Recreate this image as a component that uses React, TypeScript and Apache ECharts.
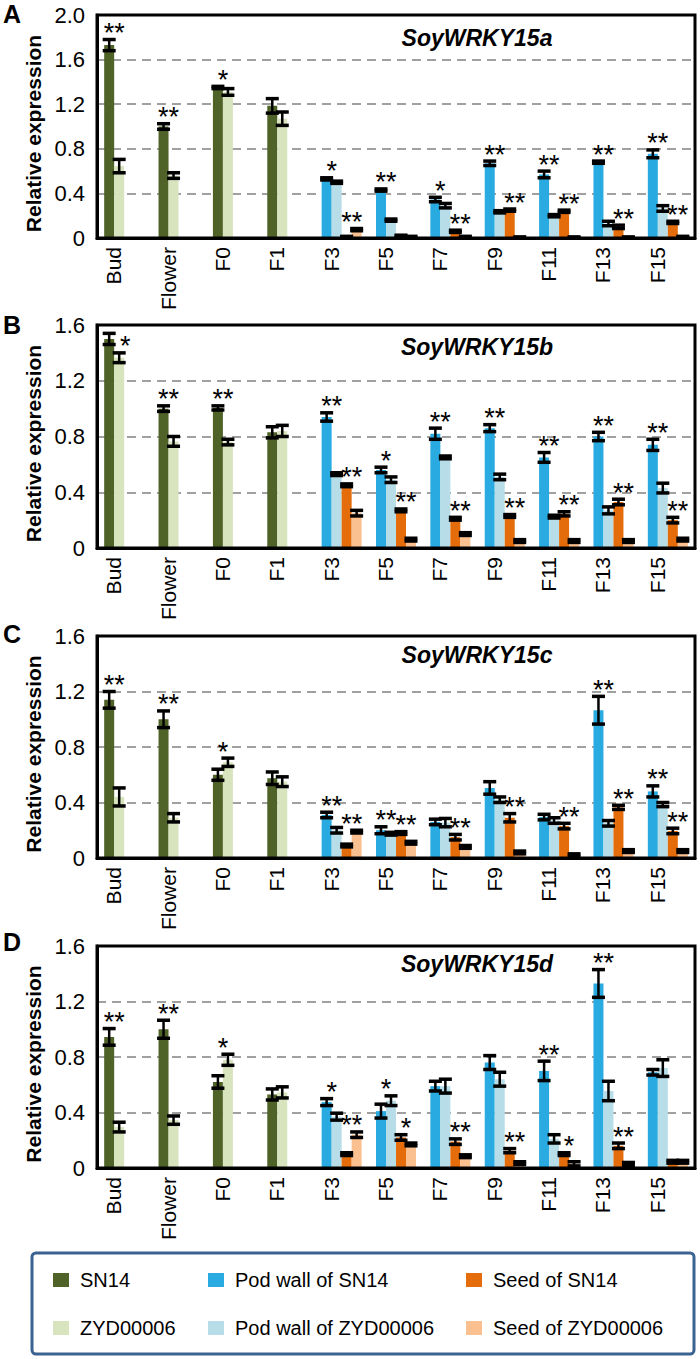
import React, { useEffect, useRef } from 'react';
import * as echarts from 'echarts';

const categories = ['Bud', 'Flower', 'F0', 'F1', 'F3', 'F5', 'F7', 'F9', 'F11', 'F13', 'F15'];

// ---------- Panel A: SoyWRKY15a ----------
const aSN14 = [1.73, 1.0, 1.35, 1.185];
const aSN14Err = [0.05, 0.025, 0.01, 0.065];
const aZYD = [0.645, 0.56, 1.31, 1.07];
const aZYDErr = [0.06, 0.025, 0.03, 0.06];
const aPodSN14 = [0.53, 0.43, 0.345, 0.67, 0.57, 0.68, 0.755];
const aPodSN14Err = [0.01, 0.01, 0.02, 0.02, 0.03, 0.01, 0.035];
const aPodZYD = [0.5, 0.16, 0.29, 0.235, 0.2, 0.13, 0.265];
const aPodZYDErr = [0.01, 0.01, 0.02, 0.01, 0.01, 0.02, 0.025];
const aSeedSN14 = [0.01, 0.02, 0.06, 0.25, 0.24, 0.1, 0.14];
const aSeedSN14Err = [0.005, 0.005, 0.01, 0.01, 0.01, 0.015, 0.01];
const aSeedZYD = [0.075, 0.01, 0.01, 0.005, 0.005, 0.005, 0.01];
const aSeedZYDErr = [0.01, 0.005, 0.005, 0.005, 0.005, 0.005, 0.005];
const aPlantSig = ['**', '**', '*', ''];
const aPodSig = ['*', '**', '*', '**', '**', '**', '**'];
const aSeedSig = ['**', '', '**', '**', '**', '**', '**'];

// ---------- Panel B: SoyWRKY15b ----------
const bSN14 = [1.5, 1.0, 1.005, 0.83];
const bSN14Err = [0.04, 0.02, 0.015, 0.04];
const bZYD = [1.365, 0.765, 0.76, 0.84];
const bZYDErr = [0.035, 0.035, 0.02, 0.04];
const bPodSN14 = [0.94, 0.56, 0.82, 0.86, 0.65, 0.8, 0.74];
const bPodSN14Err = [0.03, 0.02, 0.04, 0.025, 0.035, 0.03, 0.04];
const bPodZYD = [0.53, 0.49, 0.65, 0.51, 0.225, 0.27, 0.43];
const bPodZYDErr = [0.01, 0.02, 0.01, 0.02, 0.01, 0.025, 0.035];
const bSeedSN14 = [0.45, 0.27, 0.21, 0.23, 0.245, 0.33, 0.2];
const bSeedSN14Err = [0.01, 0.01, 0.01, 0.01, 0.015, 0.02, 0.02];
const bSeedZYD = [0.25, 0.06, 0.1, 0.05, 0.05, 0.05, 0.06];
const bSeedZYDErr = [0.02, 0.01, 0.01, 0.01, 0.01, 0.01, 0.01];
const bPlantSig = ['*', '**', '**', ''];
const bPodSig = ['**', '*', '**', '**', '**', '**', '**'];
const bSeedSig = ['**', '**', '**', '**', '**', '**', '**'];

// ---------- Panel C: SoyWRKY15c ----------
const cSN14 = [1.14, 1.0, 0.6, 0.575];
const cSN14Err = [0.06, 0.06, 0.04, 0.045];
const cZYD = [0.44, 0.29, 0.69, 0.55];
const cZYDErr = [0.065, 0.03, 0.03, 0.035];
const cPodSN14 = [0.31, 0.2, 0.26, 0.505, 0.295, 1.065, 0.48];
const cPodSN14Err = [0.02, 0.025, 0.02, 0.045, 0.02, 0.1, 0.04];
const cPodZYD = [0.2, 0.175, 0.255, 0.42, 0.27, 0.25, 0.385];
const cPodZYDErr = [0.02, 0.01, 0.03, 0.02, 0.02, 0.02, 0.015];
const cSeedSN14 = [0.09, 0.18, 0.15, 0.29, 0.23, 0.365, 0.195];
const cSeedSN14Err = [0.01, 0.01, 0.02, 0.03, 0.02, 0.015, 0.02];
const cSeedZYD = [0.19, 0.11, 0.08, 0.04, 0.02, 0.05, 0.05];
const cSeedZYDErr = [0.01, 0.01, 0.01, 0.01, 0.01, 0.01, 0.01];
const cPlantSig = ['**', '**', '*', ''];
const cPodSig = ['**', '**', '', '', '', '**', '**'];
const cSeedSig = ['**', '**', '**', '**', '**', '**', '**'];

// ---------- Panel D: SoyWRKY15d ----------
const dSN14 = [0.945, 1.0, 0.62, 0.53];
const dSN14Err = [0.06, 0.065, 0.045, 0.04];
const dZYD = [0.295, 0.345, 0.78, 0.545];
const dZYDErr = [0.035, 0.03, 0.04, 0.04];
const dPodSN14 = [0.475, 0.41, 0.59, 0.76, 0.7, 1.33, 0.69];
const dPodSN14Err = [0.025, 0.05, 0.035, 0.05, 0.07, 0.1, 0.02];
const dPodZYD = [0.37, 0.485, 0.59, 0.64, 0.21, 0.555, 0.72];
const dPodZYDErr = [0.025, 0.035, 0.05, 0.05, 0.03, 0.07, 0.06];
const dSeedSN14 = [0.1, 0.22, 0.19, 0.125, 0.1, 0.16, 0.045];
const dSeedSN14Err = [0.01, 0.02, 0.02, 0.015, 0.01, 0.02, 0.01];
const dSeedZYD = [0.24, 0.17, 0.085, 0.035, 0.03, 0.03, 0.045];
const dSeedZYDErr = [0.02, 0.01, 0.01, 0.01, 0.015, 0.01, 0.01];
const dPlantSig = ['**', '**', '*', ''];
const dPodSig = ['*', '*', '', '', '**', '**', ''];
const dSeedSig = ['**', '*', '**', '**', '*', '**', ''];

const seriesNames = ['SN14', 'ZYD00006', 'Pod wall of SN14', 'Pod wall of ZYD00006', 'Seed of SN14', 'Seed of ZYD00006'];
const seriesColors = ['#4f6228', '#d7e4bd', '#29abe2', '#b7dee8', '#e46c0a', '#fac090'];

const FONT = '"Liberation Sans", Arial, Helvetica, sans-serif';
const BAR_W = 10;
const GRID_LEFT = 97;
const GRID_W = 598;

const panels = [
  { key: 'A', title: 'SoyWRKY15a', top: 15, height: 223, max: 2.0, titleY: 38, letterY: 14,
    sn: aSN14, snErr: aSN14Err, zyd: aZYD, zydErr: aZYDErr, podSN: aPodSN14, podSNErr: aPodSN14Err,
    podZ: aPodZYD, podZErr: aPodZYDErr, seedSN: aSeedSN14, seedSNErr: aSeedSN14Err, seedZ: aSeedZYD, seedZErr: aSeedZYDErr,
    plantSig: aPlantSig, podSig: aPodSig, seedSig: aSeedSig },
  { key: 'B', title: 'SoyWRKY15b', top: 325, height: 223, max: 1.6, titleY: 347, letterY: 325,
    sn: bSN14, snErr: bSN14Err, zyd: bZYD, zydErr: bZYDErr, podSN: bPodSN14, podSNErr: bPodSN14Err,
    podZ: bPodZYD, podZErr: bPodZYDErr, seedSN: bSeedSN14, seedSNErr: bSeedSN14Err, seedZ: bSeedZYD, seedZErr: bSeedZYDErr,
    plantSig: bPlantSig, podSig: bPodSig, seedSig: bSeedSig },
  { key: 'C', title: 'SoyWRKY15c', top: 636, height: 222, max: 1.6, titleY: 655, letterY: 634,
    sn: cSN14, snErr: cSN14Err, zyd: cZYD, zydErr: cZYDErr, podSN: cPodSN14, podSNErr: cPodSN14Err,
    podZ: cPodZYD, podZErr: cPodZYDErr, seedSN: cSeedSN14, seedSNErr: cSeedSN14Err, seedZ: cSeedZYD, seedZErr: cSeedZYDErr,
    plantSig: cPlantSig, podSig: cPodSig, seedSig: cSeedSig },
  { key: 'D', title: 'SoyWRKY15d', top: 946, height: 222, max: 1.6, titleY: 964, letterY: 942,
    sn: dSN14, snErr: dSN14Err, zyd: dZYD, zydErr: dZYDErr, podSN: dPodSN14, podSNErr: dPodSN14Err,
    podZ: dPodZYD, podZErr: dPodZYDErr, seedSN: dSeedSN14, seedSNErr: dSeedSN14Err, seedZ: dSeedZYD, seedZErr: dSeedZYDErr,
    plantSig: dPlantSig, podSig: dPodSig, seedSig: dSeedSig },
];

// small manual nudges of significance marks (pixels), keyed panel-group-index
const markNudge: Record<string, [number, number]> = { 'B-plant-0': [11, 19] };

function buildOption() {
  const grid: any[] = [];
  const xAxis: any[] = [];
  const yAxis: any[] = [];
  const series: any[] = [];
  const graphic: any[] = [];

  panels.forEach((p, i) => {
    grid.push({
      left: GRID_LEFT, top: p.top, width: GRID_W, height: p.height,
      show: false, containLabel: false, outerBoundsMode: 'none',
    });
    xAxis.push({
      type: 'category', gridIndex: i, data: categories,
      axisLine: { show: true, lineStyle: { color: '#000', width: 3 } },
      axisTick: { show: false },
      axisLabel: { rotate: 90, fontSize: 21, color: '#000', fontFamily: FONT, margin: 9, verticalAlign: 'bottom' },
    });
    yAxis.push({
      type: 'value', gridIndex: i, min: 0, max: p.max, interval: 0.4,
      name: 'Relative expression', nameLocation: 'middle', nameGap: 52,
      nameTextStyle: { fontSize: 21, fontWeight: 'bold', color: '#000', fontFamily: FONT, padding: [0, 14, 0, 0] },
      axisLine: { show: true, lineStyle: { color: '#000', width: 3 } },
      axisTick: { show: false },
      axisLabel: { fontSize: 22, color: '#000', fontFamily: FONT, margin: 12,
        formatter: (v: number) => (v === 0 ? '0' : v.toFixed(1)) },
      splitLine: { show: true, lineStyle: { color: '#a0a0a0', width: 2, type: [9, 6] } },
    });

    const nullPlant = [null, null, null, null];
    const nullPod = [null, null, null, null, null, null, null];
    const seriesData = [
      [...p.sn, ...nullPod],
      [...p.zyd, ...nullPod],
      [...nullPlant, ...p.podSN],
      [...nullPlant, ...p.podZ],
      [...nullPlant, ...p.seedSN],
      [...nullPlant, ...p.seedZ],
    ];
    const stackSlot = [0, 1, 0, 1, 2, 3];
    seriesData.forEach((d, k) => {
      series.push({
        name: seriesNames[k], type: 'bar', xAxisIndex: i, yAxisIndex: i,
        stack: p.key + stackSlot[k], barWidth: BAR_W, barGap: '0%',
        data: d, itemStyle: { color: seriesColors[k] }, z: 2,
      });
    });

    // error bars: [cat, slot, value, err]
    const errData: number[][] = [];
    p.sn.forEach((v, j) => errData.push([j, 0, v, p.snErr[j]]));
    p.zyd.forEach((v, j) => errData.push([j, 1, v, p.zydErr[j]]));
    p.podSN.forEach((v, j) => errData.push([j + 4, 0, v, p.podSNErr[j]]));
    p.podZ.forEach((v, j) => errData.push([j + 4, 1, v, p.podZErr[j]]));
    p.seedSN.forEach((v, j) => errData.push([j + 4, 2, v, p.seedSNErr[j]]));
    p.seedZ.forEach((v, j) => errData.push([j + 4, 3, v, p.seedZErr[j]]));
    series.push({
      type: 'custom', name: 'err' + p.key, xAxisIndex: i, yAxisIndex: i, z: 5, clip: false,
      encode: { x: 0, y: 2 }, data: errData, silent: true,
      renderItem: (params: any, api: any) => {
        const cat = api.value(0), slot = api.value(1), v = api.value(2), e = api.value(3);
        const c = api.coord([cat, v]);
        const yt = api.coord([cat, v + e])[1];
        const yb = api.coord([cat, Math.max(0, v - e)])[1];
        const x = c[0] + (slot - 1.5) * BAR_W;
        const hw = 6.5;
        return {
          type: 'group',
          children: [
            { type: 'line', shape: { x1: x, y1: yt, x2: x, y2: yb }, style: { stroke: '#000', lineWidth: 2.5 } },
            { type: 'line', shape: { x1: x - hw, y1: yt, x2: x + hw, y2: yt }, style: { stroke: '#000', lineWidth: 3.5 } },
            { type: 'line', shape: { x1: x - hw, y1: yb, x2: x + hw, y2: yb }, style: { stroke: '#000', lineWidth: 3.5 } },
          ],
        };
      },
    });

    // significance marks
    const marks: any[] = [];
    p.plantSig.forEach((s, j) => {
      if (!s) return;
      const y = Math.max(p.sn[j] + p.snErr[j], p.zyd[j] + p.zydErr[j]);
      const n = markNudge[p.key + '-plant-' + j] || [0, 0];
      marks.push({ cat: j, pair: 0, y, label: s, dx: n[0], dy: n[1] });
    });
    p.podSig.forEach((s, j) => {
      if (!s) return;
      const y = Math.max(p.podSN[j] + p.podSNErr[j], p.podZ[j] + p.podZErr[j]);
      const n = markNudge[p.key + '-pod-' + j] || [0, 0];
      marks.push({ cat: j + 4, pair: 0, y, label: s, dx: n[0], dy: n[1] });
    });
    p.seedSig.forEach((s, j) => {
      if (!s) return;
      const y = Math.max(p.seedSN[j] + p.seedSNErr[j], p.seedZ[j] + p.seedZErr[j]);
      const n = markNudge[p.key + '-seed-' + j] || [0, 0];
      marks.push({ cat: j + 4, pair: 1, y, label: s, dx: n[0], dy: n[1] });
    });
    series.push({
      type: 'custom', name: 'sig' + p.key, xAxisIndex: i, yAxisIndex: i, z: 6, clip: false, silent: true,
      encode: { x: 0, y: 1 }, data: marks.map((m) => [m.cat, m.y]),
      renderItem: (params: any, api: any) => {
        const m = marks[params.dataIndex];
        const pt = api.coord([m.cat, m.y]);
        return {
          type: 'text',
          x: pt[0] + (m.pair === 0 ? -BAR_W : BAR_W) + m.dx,
          y: pt[1] - 6.5 + m.dy,
          style: { text: m.label, fill: '#000', fontSize: 27, fontFamily: FONT, align: 'center', verticalAlign: 'middle' },
        };
      },
    });

    // plot frame
    graphic.push({
      type: 'rect', z: 100,
      shape: { x: GRID_LEFT, y: p.top, width: GRID_W, height: p.height },
      style: { fill: 'none', stroke: '#000', lineWidth: 3 },
    });
    graphic.push({
      type: 'text', x: 3, y: p.letterY,
      style: { text: p.key, fill: '#000', fontSize: 25, fontWeight: 'bold', fontFamily: FONT, align: 'left', verticalAlign: 'middle' },
    });
    graphic.push({
      type: 'text', x: 477, y: p.titleY,
      style: { text: p.title, fill: '#000', fontSize: 23, fontWeight: 'bold', fontStyle: 'italic', fontFamily: FONT, align: 'center', verticalAlign: 'middle' },
    });
  });

  graphic.push({
    type: 'rect', shape: { x: 32, y: 1253, width: 662, height: 101, r: 4 },
    style: { fill: 'none', stroke: '#3a6391', lineWidth: 3 }, z: 0,
  });

  const legendPos = [
    [53, 1270], [53, 1318], [208, 1270], [208, 1318], [466, 1270], [466, 1318],
  ];
  const legend = seriesNames.map((n, k) => ({
    data: [n], left: legendPos[k][0], top: legendPos[k][1], padding: 0,
    itemWidth: 16, itemHeight: 14, icon: 'rect', selectedMode: false,
    textStyle: { fontSize: 20, color: '#000', fontFamily: FONT, padding: [0, 0, 0, 6] },
  }));

  return { animation: false, backgroundColor: '#fff', grid, xAxis, yAxis, series, graphic, legend };
}

export default function App() {
  const ref = useRef<HTMLDivElement>(null);
  useEffect(() => {
    if (!ref.current) return;
    const chart = echarts.init(ref.current, undefined, { renderer: 'svg' });
    chart.setOption(buildOption() as any);
    return () => chart.dispose();
  }, []);
  return <div ref={ref} style={{ position: 'absolute', left: 0, top: 0, width: 700, height: 1359 }} />;
}
